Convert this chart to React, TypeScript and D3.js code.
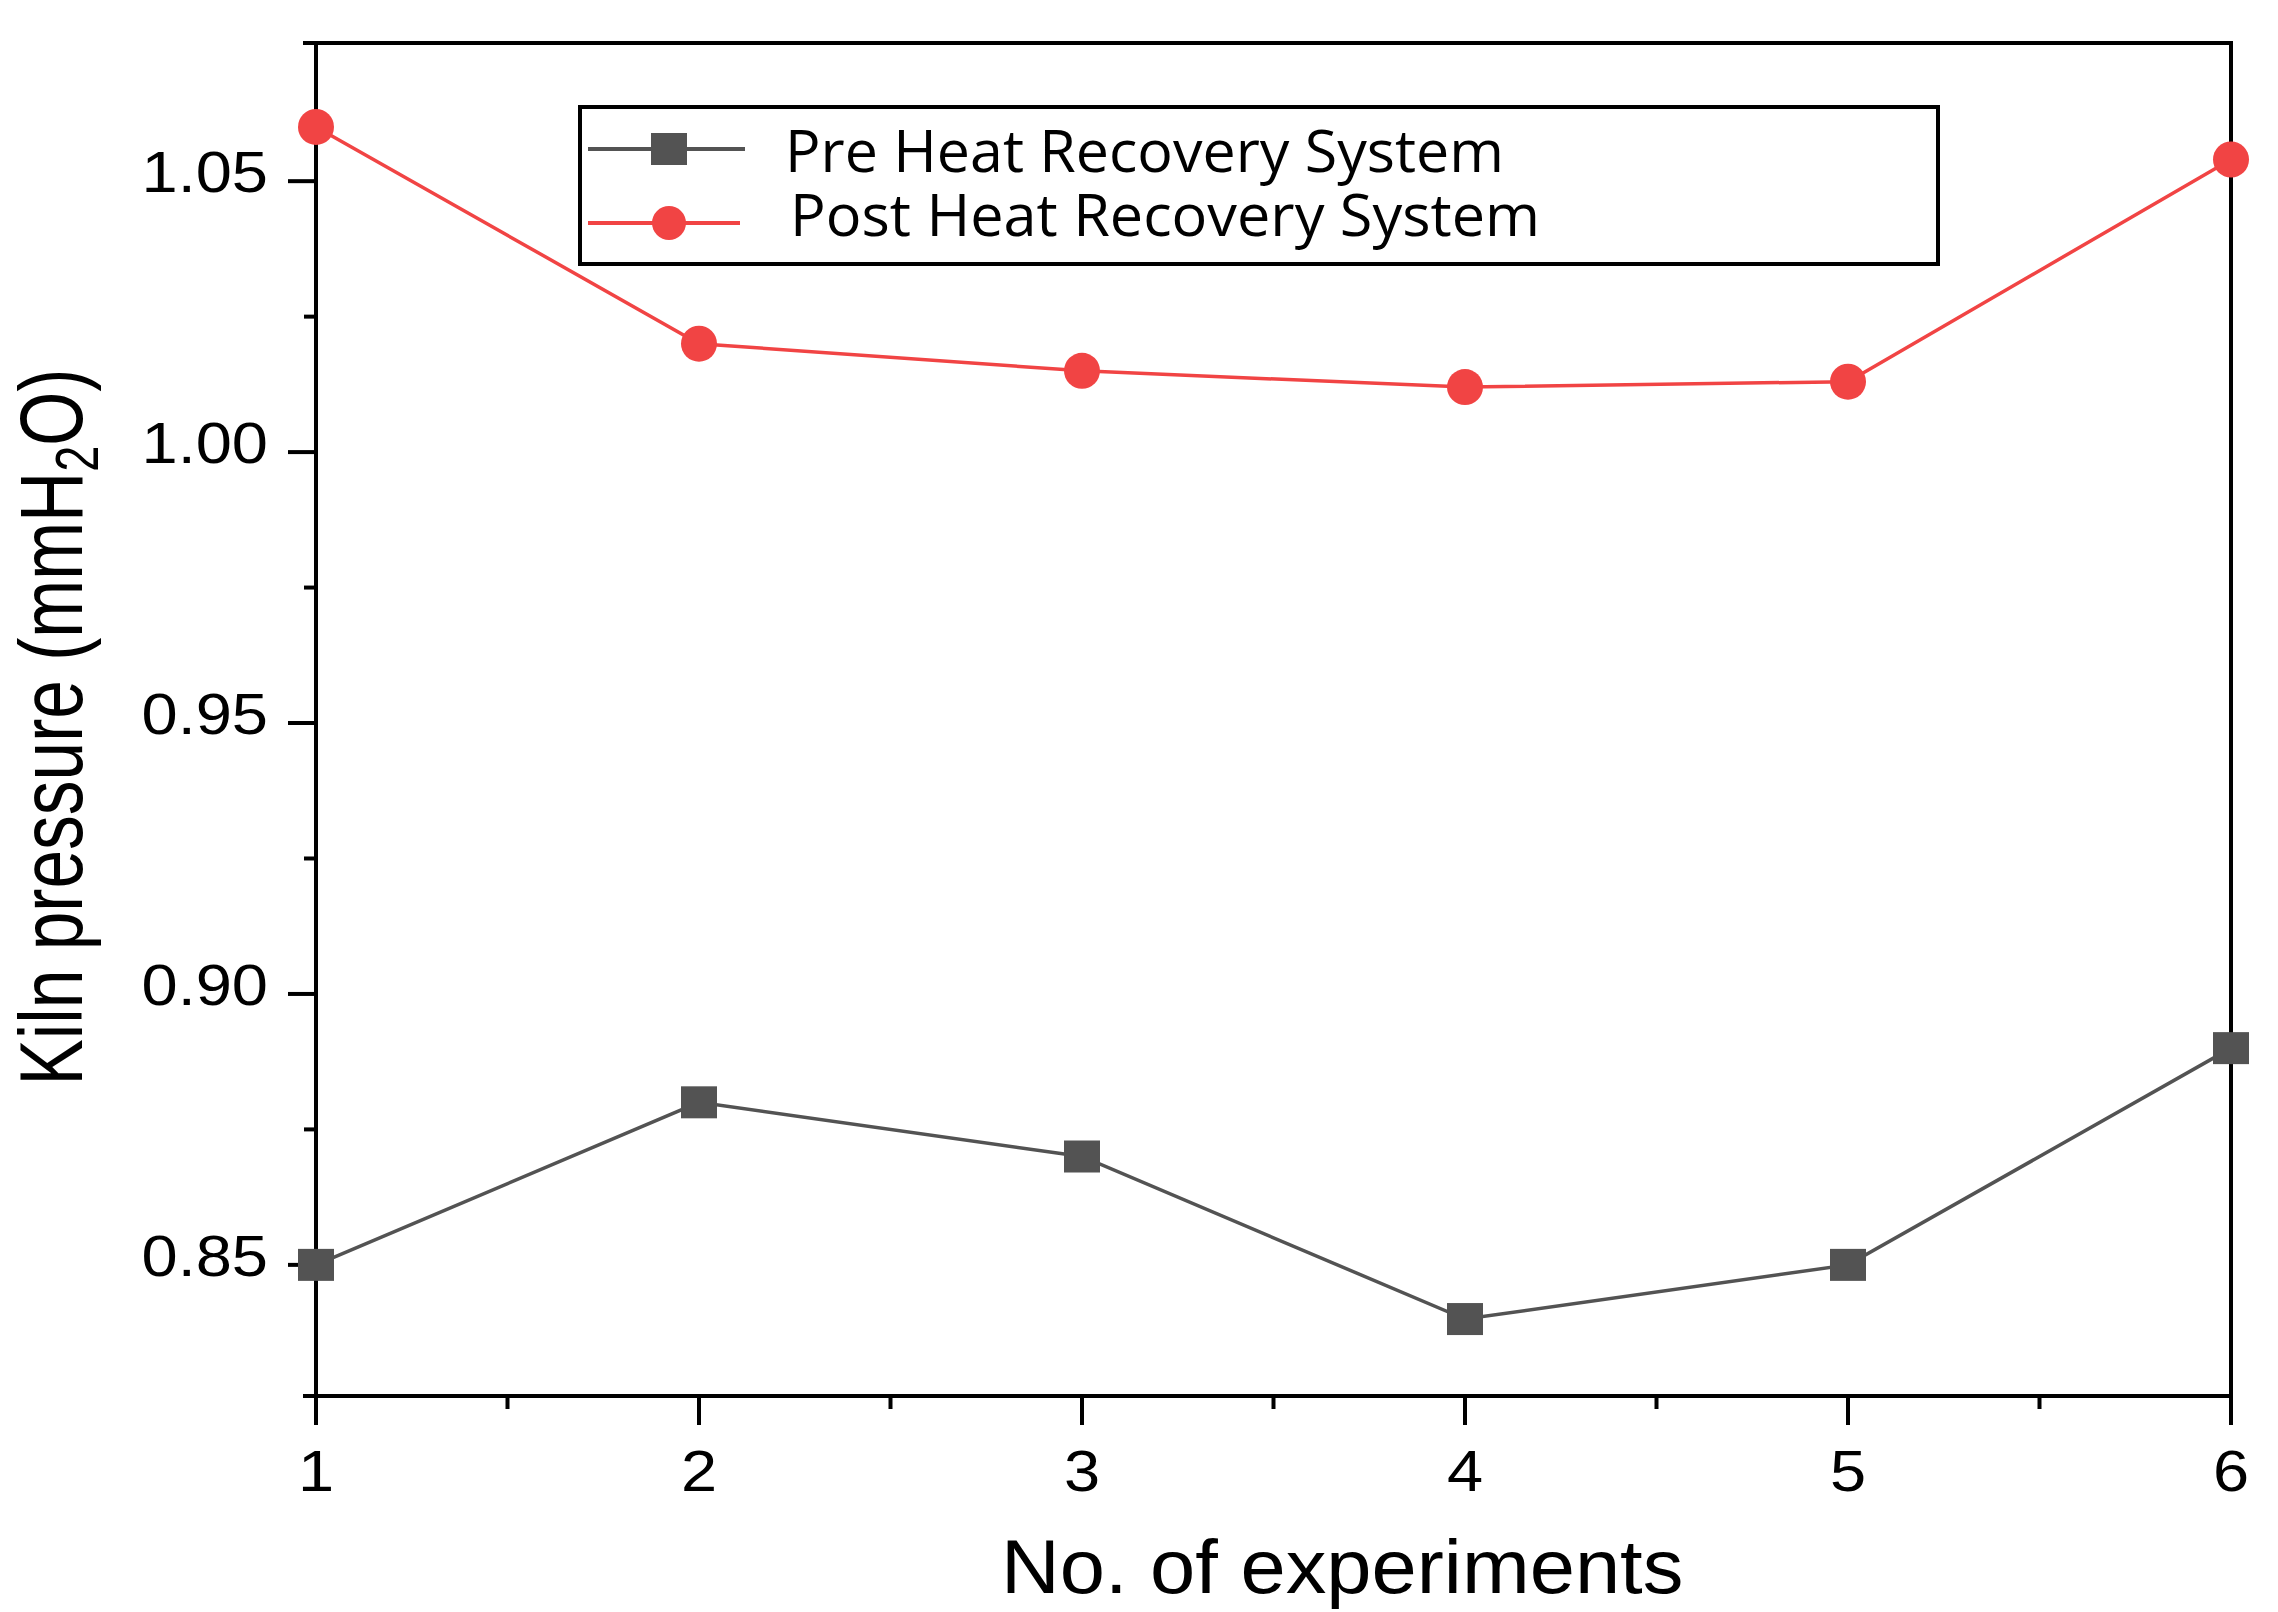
import * as d3 from "d3";

// experiment numbers and kiln pressure readings (mmH2O)
const experiments = [1, 2, 3, 4, 5, 6];
const preHeatRecovery = [0.85, 0.88, 0.87, 0.84, 0.85, 0.89];
const postHeatRecovery = [1.06, 1.02, 1.015, 1.012, 1.013, 1.054];

const yTicks = [0.85, 0.9, 0.95, 1.0, 1.05];
const yMinorTicks = [0.875, 0.925, 0.975, 1.025];
const xMinorTicks = [1.5, 2.5, 3.5, 4.5, 5.5];

const seriesNames = ["Pre Heat Recovery System", "Post Heat Recovery System"];

const width = 2278;
const height = 1612;
const plot = { left: 316, right: 2231, top: 43, bottom: 1396 };

const PRE_COLOR = "#535353";
const POST_COLOR = "#f14444";
const AXIS_FONT = "'Liberation Sans', Arial, sans-serif";

export default function App() {
  const x = d3.scaleLinear().domain([1, 6]).range([plot.left, plot.right]);
  const y = d3
    .scaleLinear()
    .domain([0.8258, 1.0755])
    .range([plot.bottom, plot.top]);

  const line = d3
    .line<number>()
    .x((_, i) => x(experiments[i]))
    .y((d) => y(d));

  const axisW = 4;

  return (
    <div style={{ position: "absolute", left: 0, top: 0 }}>
      <svg width={width} height={height} style={{ display: "block", background: "#fff" }}>
        {/* frame */}
        <g stroke="#000" strokeWidth={axisW} fill="none">
          <line x1={plot.left - 13} x2={plot.right + 2} y1={plot.top} y2={plot.top} />
          <line x1={plot.left - 13} x2={plot.right + 2} y1={plot.bottom} y2={plot.bottom} />
          <line x1={plot.left} x2={plot.left} y1={plot.top - 2} y2={plot.bottom} />
          <line x1={plot.right} x2={plot.right} y1={plot.top - 2} y2={plot.bottom} />
        </g>

        {/* x ticks */}
        <g stroke="#000" strokeWidth={axisW}>
          {experiments.map((d) => (
            <line key={d} x1={x(d)} x2={x(d)} y1={plot.bottom} y2={plot.bottom + 29} />
          ))}
          {xMinorTicks.map((d) => (
            <line key={d} x1={x(d)} x2={x(d)} y1={plot.bottom} y2={plot.bottom + 13} />
          ))}
        </g>
        <g fontFamily={AXIS_FONT} fontSize={58} fill="#000" textAnchor="middle">
          {experiments.map((d) => (
            <g key={d} transform={`translate(${x(d)},1491) scale(1.12,1)`}>
              <text>{d}</text>
            </g>
          ))}
        </g>

        {/* y ticks */}
        <g stroke="#000" strokeWidth={axisW}>
          {yTicks.map((d) => (
            <line key={d} x1={plot.left - 28} x2={plot.left} y1={y(d)} y2={y(d)} />
          ))}
          {yMinorTicks.map((d) => (
            <line key={d} x1={plot.left - 12} x2={plot.left} y1={y(d)} y2={y(d)} />
          ))}
        </g>
        <g fontFamily={AXIS_FONT} fontSize={57} fill="#000" textAnchor="end">
          {yTicks.map((d) => (
            <g key={d} transform={`translate(268,${y(d) + 11}) scale(1.14,1)`}>
              <text>{d.toFixed(2)}</text>
            </g>
          ))}
        </g>

        {/* axis titles */}
        <g transform="translate(1001,1593) scale(1.07,1)">
          <text fontFamily={AXIS_FONT} fontSize={76} fill="#000">
            No. of experiments
          </text>
        </g>
        <g transform="translate(82,727) scale(1.12,1) rotate(-90)">
          <text
            fontFamily={AXIS_FONT}
            fontSize={80}
            fill="#000"
            textAnchor="middle"
            textLength={717}
            lengthAdjust="spacingAndGlyphs"
          >
            Kiln pressure (mmH
            <tspan fontSize={54} dy={14}>2</tspan>
            <tspan dy={-14}>O)</tspan>
          </text>
        </g>

        {/* series */}
        <path d={line(preHeatRecovery) ?? ""} fill="none" stroke={PRE_COLOR} strokeWidth={3.5} />
        <path d={line(postHeatRecovery) ?? ""} fill="none" stroke={POST_COLOR} strokeWidth={3.5} />
        {preHeatRecovery.map((d, i) => (
          <rect
            key={i}
            x={x(experiments[i]) - 18}
            y={y(d) - 16}
            width={36}
            height={32}
            fill={PRE_COLOR}
          />
        ))}
        {postHeatRecovery.map((d, i) => (
          <circle key={i} cx={x(experiments[i])} cy={y(d)} r={18} fill={POST_COLOR} />
        ))}

        {/* legend */}
        <rect x={580} y={107} width={1358} height={157} fill="#fff" stroke="#000" strokeWidth={4} />
        <line x1={588} x2={745} y1={149} y2={149} stroke={PRE_COLOR} strokeWidth={4} />
        <rect x={669 - 18} y={149 - 16} width={36} height={32} fill={PRE_COLOR} />
        <line x1={588} x2={740} y1={223} y2={223} stroke={POST_COLOR} strokeWidth={4} />
        <circle cx={669} cy={223} r={17} fill={POST_COLOR} />
        <g fontFamily="'Open Sans', sans-serif" fontSize={59} fill="#000">
          <text x={785} y={172} textLength={719} lengthAdjust="spacingAndGlyphs">
            {seriesNames[0]}
          </text>
          <text x={790} y={236} textLength={750} lengthAdjust="spacingAndGlyphs">
            {seriesNames[1]}
          </text>
        </g>
      </svg>
    </div>
  );
}
